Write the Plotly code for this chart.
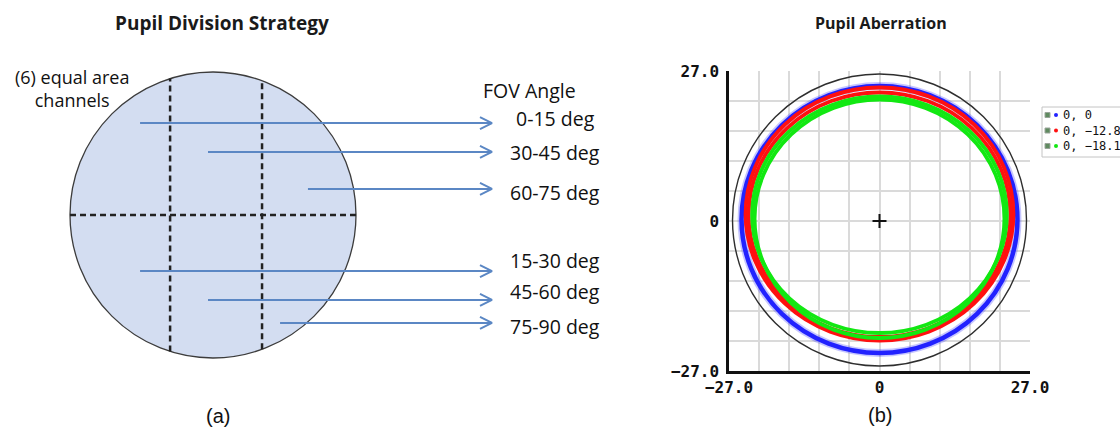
import numpy as np
import plotly.graph_objects as go

W, H = 1120, 431

# ---------------- Panel (a): pupil division strategy ----------------
# Diagram coordinates are in units of the pupil radius (pupil centred at 0, 0).
channel_cuts_x = [-0.30, 0.343]      # vertical channel boundaries
channel_cut_y = 0.0                  # horizontal channel boundary
arrow_start_x = [-0.510, -0.035, 0.664, -0.510, -0.035, 0.469]
arrow_y = [0.643, 0.441, 0.182, -0.392, -0.594, -0.755]
arrow_end_x = 1.951
fov_labels = ["0-15 deg", "30-45 deg", "60-75 deg", "15-30 deg", "45-60 deg", "75-90 deg"]
fov_label_y = [0.678, 0.434, 0.154, -0.315, -0.538, -0.783]

# ---------------- Panel (b): pupil aberration ----------------
series_names = ["0, 0", "0, \u221212.8", "0, \u221218.1"]
series_colors = ["#2222ff", "#ff1010", "#12e812"]
# pupil footprint rims per field: (x half-width, y top, y bottom)
series_rims = [
    [(24.75, 24.30, -23.76)],
    [(24.03, 24.03, -21.51), (23.49, 23.13, -20.88)],
    [(22.86, 22.41, -20.16), (22.41, 21.87, -21.06)],
]
aperture_rim = (26.37, 26.46, -26.10)
axis_limit = 27.0
grid_step = 5.4
tick_vals = [-27.0, 0.0, 27.0]
x_tick_text = ["\u221227.0", "0", "27.0"]
y_tick_text = ["\u221227.0", "0", "27.0"]

# ---------------- layout helpers ----------------
def px(x):
    return x / W

def py(y):
    return 1 - y / H

# left panel: pupil centre at (213, 215) px, radius 143 px
A_CX, A_CY, A_R = 213.0, 215.0, 143.0
a_xrange = [(0 - A_CX) / A_R, (W * 0.5 - A_CX) / A_R]
a_yrange = [(A_CY - H) / A_R, A_CY / A_R]

fig = go.Figure()
shapes = []
annotations = []

# pupil disc
shapes.append(dict(type="circle", xref="x", yref="y", x0=-1, x1=1, y0=-1, y1=1,
                   fillcolor="#d3ddf1", line=dict(color="#3c3c3c", width=1.3),
                   layer="below"))

# dashed channel boundaries
dash_x, dash_y = [-1.0, 1.0, None], [channel_cut_y, channel_cut_y, None]
for cx in channel_cuts_x:
    h = float(np.sqrt(1 - cx ** 2))
    dash_x += [cx, cx, None]
    dash_y += [-h, h, None]
fig.add_trace(go.Scatter(x=dash_x, y=dash_y, mode="lines", xaxis="x", yaxis="y",
                         line=dict(color="#222222", width=2.5, dash="6px,4px"),
                         hoverinfo="skip", showlegend=False))

# arrows
head_len, head_half = 12.0 / A_R, 6.0 / A_R
ax_, ay_ = [], []
for sx, yy in zip(arrow_start_x, arrow_y):
    ax_ += [sx, arrow_end_x, None,
            arrow_end_x - head_len, arrow_end_x, arrow_end_x - head_len, None]
    ay_ += [yy, yy, None, yy + head_half, yy, yy - head_half, None]
fig.add_trace(go.Scatter(x=ax_, y=ay_, mode="lines", xaxis="x", yaxis="y",
                         line=dict(color="#5b87c4", width=2),
                         hoverinfo="skip", showlegend=False))

label_font = dict(family="Open Sans", size=19.5, color="#111111")
for txt, yy in zip(fov_labels, fov_label_y):
    annotations.append(dict(x=2.392, y=yy, xref="x", yref="y", text=txt,
                            showarrow=False, font=label_font,
                            xanchor="center", yanchor="middle"))
annotations.append(dict(x=px(529), y=py(91), xref="paper", yref="paper",
                        text="FOV Angle", showarrow=False, font=label_font,
                        xanchor="center", yanchor="middle"))
annotations.append(dict(x=px(72), y=py(88), xref="paper", yref="paper",
                        text="(6) equal area<br>channels", showarrow=False,
                        font=dict(family="Open Sans", size=18, color="#111111"),
                        align="center", xanchor="center", yanchor="middle"))

annotations.append(dict(x=px(222), y=py(23), xref="paper", yref="paper",
                        text="<b>Pupil Division Strategy</b>", showarrow=False,
                        font=dict(family="Open Sans", size=19, color="#1a1a1a"),
                        xanchor="center", yanchor="middle"))
annotations.append(dict(x=px(881), y=py(23), xref="paper", yref="paper",
                        text="<b>Pupil Aberration</b>", showarrow=False,
                        font=dict(family="Open Sans", size=16, color="#1a1a1a"),
                        xanchor="center", yanchor="middle"))

cap_font = dict(family="Liberation Sans", size=20, color="#111111")
annotations.append(dict(x=px(218), y=py(416), xref="paper", yref="paper", text="(a)",
                        showarrow=False, font=cap_font, xanchor="center", yanchor="middle"))
annotations.append(dict(x=px(880), y=py(415), xref="paper", yref="paper", text="(b)",
                        showarrow=False, font=cap_font, xanchor="center", yanchor="middle"))

# ---------------- panel (b) rings ----------------
def rim_shape(rim, color, width, opacity=1.0):
    xh, yt, yb = rim
    return dict(type="circle", xref="x2", yref="y2", x0=-xh, x1=xh, y0=yb, y1=yt,
                line=dict(color=color, width=width), opacity=opacity, layer="above")

# the on-axis footprint is drawn with a soft halo
shapes.append(rim_shape(series_rims[0][0], series_colors[0], 8, 0.25))
for rims, color in zip(series_rims, series_colors):
    for rim in rims:
        shapes.append(rim_shape(rim, color, 4.5 if len(rims) == 1 else 3.8))
shapes.append(rim_shape(aperture_rim, "#2e2e2e", 1.4))

# chief ray marker at the pupil centre
fig.add_trace(go.Scatter(x=[0], y=[0], mode="markers", xaxis="x2", yaxis="y2",
                         marker=dict(symbol="cross-thin", size=10,
                                     line=dict(color="#111111", width=2)),
                         hoverinfo="skip", showlegend=False))

# legend box
leg_top, leg_bot, leg_left = 107, 157, 1042
shapes.append(dict(type="rect", xref="paper", yref="paper", x0=px(leg_left), x1=px(W + 10),
                   y0=py(leg_bot), y1=py(leg_top), line=dict(color="#c4c4c4", width=1),
                   fillcolor="white", layer="above"))
leg_font = dict(family="DejaVu Sans Mono", size=12, color="#111111")
for i, (name, color) in enumerate(zip(series_names, series_colors)):
    ry = 115 + 15.5 * i
    shapes.append(dict(type="rect", xref="paper", yref="paper",
                       x0=px(1045), x1=px(1050), y0=py(ry + 2.5), y1=py(ry - 2.5),
                       fillcolor="#5f8a5f", line=dict(color="#9aa59a", width=1),
                       layer="above"))
    shapes.append(dict(type="circle", xref="paper", yref="paper",
                       x0=px(1054), x1=px(1058), y0=py(ry + 2), y1=py(ry - 2),
                       fillcolor=color, line=dict(width=0), layer="above"))
    annotations.append(dict(x=px(1061), y=py(ry), xref="paper", yref="paper", text=name,
                            showarrow=False, font=leg_font, xanchor="left",
                            yanchor="middle"))

grid_color = "#dadada"
tick_font = dict(family="DejaVu Sans Mono", size=16, color="#111111", weight="bold")
axis_common = dict(range=[-axis_limit, axis_limit], tickmode="array", tickvals=tick_vals,
                   showgrid=True, gridcolor=grid_color, gridwidth=2, zeroline=False,
                   showline=True, linecolor="#111111", linewidth=2.5, ticks="",
                   tickfont=tick_font, fixedrange=True,
                   minor=dict(tick0=-axis_limit, dtick=grid_step, showgrid=True,
                              gridcolor=grid_color, gridwidth=2))

fig.update_layout(
    width=W, height=H,
    margin=dict(l=0, r=0, t=0, b=0, autoexpand=False),
    paper_bgcolor="white", plot_bgcolor="white",
    showlegend=False,
    xaxis=dict(domain=[0, 0.5], range=a_xrange, visible=False, fixedrange=True),
    yaxis=dict(domain=[0, 1], range=a_yrange, visible=False, fixedrange=True),
    xaxis2=dict(domain=[px(729), px(1030)], anchor="y2", ticktext=x_tick_text,
                **axis_common),
    yaxis2=dict(domain=[py(371), py(71)], anchor="x2", ticktext=y_tick_text,
                ticklabelstandoff=4, **axis_common),
    shapes=shapes,
    annotations=annotations,
)

fig.write_html("out.html")
